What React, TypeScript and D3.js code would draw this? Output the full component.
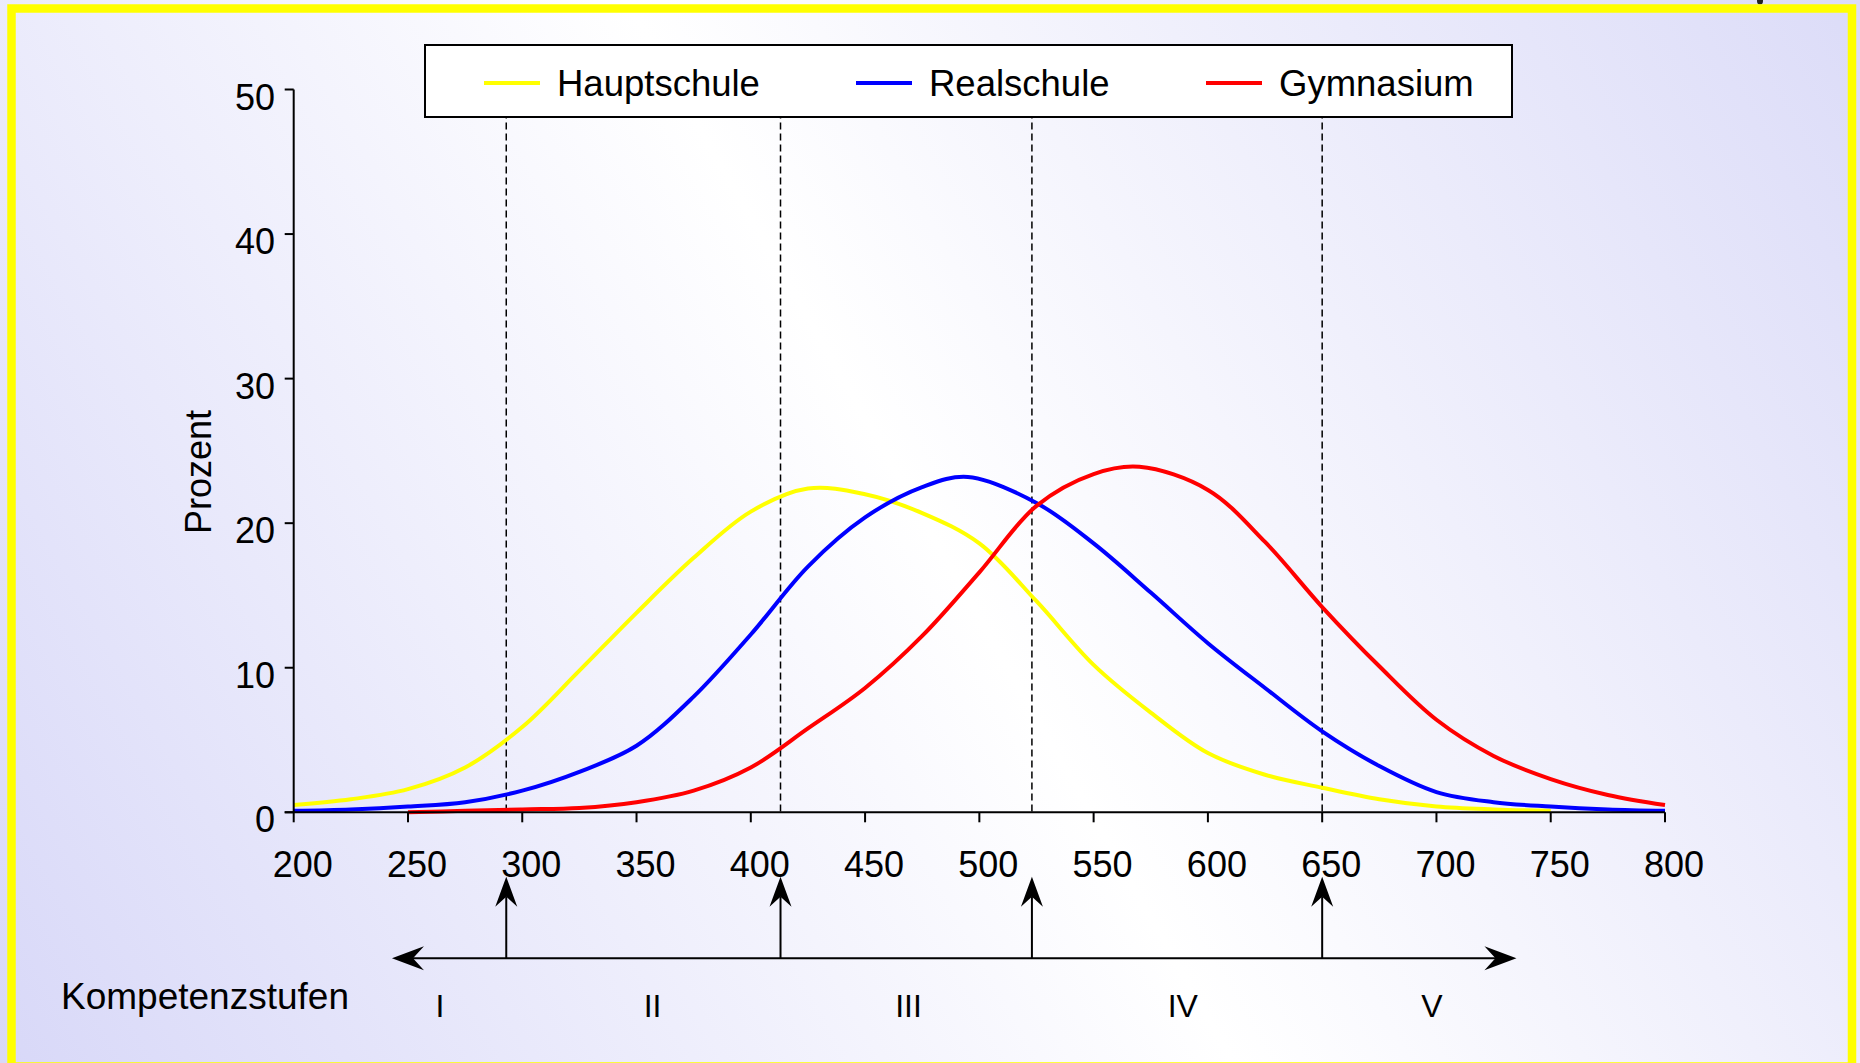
import React from "react";
import * as d3 from "d3";

// ---------- data ----------
const xTicks = [200, 250, 300, 350, 400, 450, 500, 550, 600, 650, 700, 750, 800];
const yTicks = [0, 10, 20, 30, 40, 50];

const seriesNames = ["Hauptschule", "Realschule", "Gymnasium"];
const seriesColors = ["#ffff00", "#0000ff", "#ff0000"];

const hauptX = [200, 225, 250, 275, 300, 325, 350, 375, 400, 425, 450, 475, 500, 525, 550, 575, 600, 625, 650, 675, 700, 725, 750];
const hauptY = [0.5, 0.9, 1.6, 3.1, 5.9, 9.8, 13.8, 17.6, 20.8, 22.4, 22.0, 20.7, 18.6, 14.6, 10.2, 6.9, 4.1, 2.6, 1.7, 0.9, 0.4, 0.2, 0.1];

const realX = [200, 225, 250, 275, 300, 325, 350, 375, 400, 425, 450, 475, 495, 525, 550, 575, 600, 625, 650, 675, 700, 725, 750, 775, 800];
const realY = [0.1, 0.2, 0.4, 0.7, 1.5, 2.8, 4.6, 8.0, 12.3, 17.0, 20.4, 22.5, 23.2, 21.4, 18.6, 15.2, 11.7, 8.6, 5.6, 3.2, 1.4, 0.7, 0.4, 0.2, 0.1];

const gymX = [250, 275, 300, 325, 350, 375, 400, 425, 450, 475, 500, 525, 550, 570, 600, 625, 650, 675, 700, 725, 750, 775, 800];
const gymY = [0.0, 0.1, 0.2, 0.3, 0.7, 1.5, 3.1, 5.8, 8.6, 12.2, 16.6, 21.2, 23.4, 23.9, 22.3, 18.7, 14.2, 10.1, 6.4, 3.9, 2.3, 1.2, 0.5];

const levelBounds = [293, 413, 523, 650];
const levelNames = ["I", "II", "III", "IV", "V"];
const levelLabelX = [264, 357, 469, 589, 698];
const levelAxisRange = [243, 735];

const W = 1860;
const H = 1063;
const FONT = "'Liberation Sans', Arial, Helvetica, sans-serif";

export default function App() {
  const x = d3.scaleLinear().domain([200, 800]).range([293.7, 1665]);
  const y = d3.scaleLinear().domain([0, 50]).range([812.3, 89.5]);

  const series = [
    hauptX.map((v, i) => [v, hauptY[i]] as [number, number]),
    realX.map((v, i) => [v, realY[i]] as [number, number]),
    gymX.map((v, i) => [v, gymY[i]] as [number, number]),
  ];

  const line = d3
    .line<[number, number]>()
    .x((d) => x(d[0]))
    .y((d) => y(d[1]))
    .curve(d3.curveCatmullRom.alpha(0.5));

  const y0 = y(0);
  const arrowY = 958.3;
  const arrowTipY = 876.7;

  const legendX = [484, 856, 1206];
  const lx0 = x(levelAxisRange[0]);
  const lx1 = x(levelAxisRange[1]);

  return (
    <svg
      width={W}
      height={H}
      style={{ position: "absolute", left: 0, top: 0, display: "block" }}
      fontFamily={FONT}
    >
      <defs>
        <linearGradient id="bg" x1="0" y1={H} x2={W} y2="0" gradientUnits="userSpaceOnUse">
          <stop offset="0" stopColor="#d8d8f8" />
          <stop offset="0.5" stopColor="#ffffff" />
          <stop offset="1" stopColor="#dcdcf8" />
        </linearGradient>
      </defs>
      <rect x={0} y={0} width={W} height={H} fill="url(#bg)" />
      <ellipse cx={1760} cy={1} rx={3} ry={3.5} fill="#222" />
      <rect x={11.5} y={8.5} width={1840.5} height={1058} fill="none" stroke="#ffff00" strokeWidth={8.5} />

      {/* dashed level lines */}
      {levelBounds.map((b, i) => (
        <line
          key={"d" + i}
          x1={x(b)}
          x2={x(b)}
          y1={y(50)}
          y2={y0}
          stroke="#000"
          strokeWidth={1.5}
          strokeDasharray="7,4"
        />
      ))}

      {/* curves */}
      {series.map((s, i) => (
        <path key={"s" + i} d={line(s) || ""} fill="none" stroke={seriesColors[i]} strokeWidth={4} strokeLinejoin="round" />
      ))}

      {/* y axis */}
      <line x1={x(200)} x2={x(200)} y1={y(50)} y2={y0} stroke="#000" strokeWidth={2} />
      {yTicks.map((t) => (
        <g key={"yt" + t}>
          <line x1={x(200) - 9} x2={x(200)} y1={y(t)} y2={y(t)} stroke="#000" strokeWidth={2} />
          <text x={275} y={y(t) + 20} textAnchor="end" fontSize={36} fill="#000">
            {t}
          </text>
        </g>
      ))}

      {/* x axis */}
      <line x1={x(200) - 9} x2={x(800)} y1={y0} y2={y0} stroke="#000" strokeWidth={2} />
      {xTicks.map((t) => (
        <g key={"xt" + t}>
          <line x1={x(t)} x2={x(t)} y1={y0} y2={y0 + 10} stroke="#000" strokeWidth={2} />
          <text x={x(t) + 9} y={877} textAnchor="middle" fontSize={36} fill="#000">
            {t}
          </text>
        </g>
      ))}

      <text
        transform={`translate(211,472) rotate(-90)`}
        textAnchor="middle"
        fontSize={36}
        fill="#000"
      >
        Prozent
      </text>

      {/* legend */}
      <rect x={425} y={45} width={1087} height={72} fill="#ffffff" stroke="#000" strokeWidth={2} />
      {seriesNames.map((n, i) => (
        <g key={"lg" + i}>
          <line x1={legendX[i]} x2={legendX[i] + 56} y1={83} y2={83} stroke={seriesColors[i]} strokeWidth={4} />
          <text x={legendX[i] + 73} y={96} fontSize={36.5} fill="#000">
            {n}
          </text>
        </g>
      ))}

      {/* competency levels */}
      <line x1={lx0 + 20} x2={lx1 - 20} y1={arrowY} y2={arrowY} stroke="#000" strokeWidth={2} />
      <path
        d={`M${lx0},${arrowY} L${lx0 + 32},${arrowY - 12} L${lx0 + 21},${arrowY} L${lx0 + 32},${arrowY + 12} Z`}
        fill="#000"
      />
      <path
        d={`M${lx1},${arrowY} L${lx1 - 32},${arrowY - 12} L${lx1 - 21},${arrowY} L${lx1 - 32},${arrowY + 12} Z`}
        fill="#000"
      />
      {levelBounds.map((b, i) => (
        <g key={"ar" + i}>
          <line x1={x(b)} x2={x(b)} y1={arrowY} y2={arrowTipY + 20} stroke="#000" strokeWidth={2} />
          <path
            d={`M${x(b)},${arrowTipY} L${x(b) - 11},${arrowTipY + 30} L${x(b)},${arrowTipY + 20} L${x(b) + 11},${arrowTipY + 30} Z`}
            fill="#000"
          />
        </g>
      ))}
      {levelNames.map((n, i) => (
        <text key={"ln" + i} x={x(levelLabelX[i])} y={1017} textAnchor="middle" fontSize={32} fill="#000">
          {n}
        </text>
      ))}
      <text x={61} y={1009} fontSize={37} fill="#000">
        Kompetenzstufen
      </text>
    </svg>
  );
}
